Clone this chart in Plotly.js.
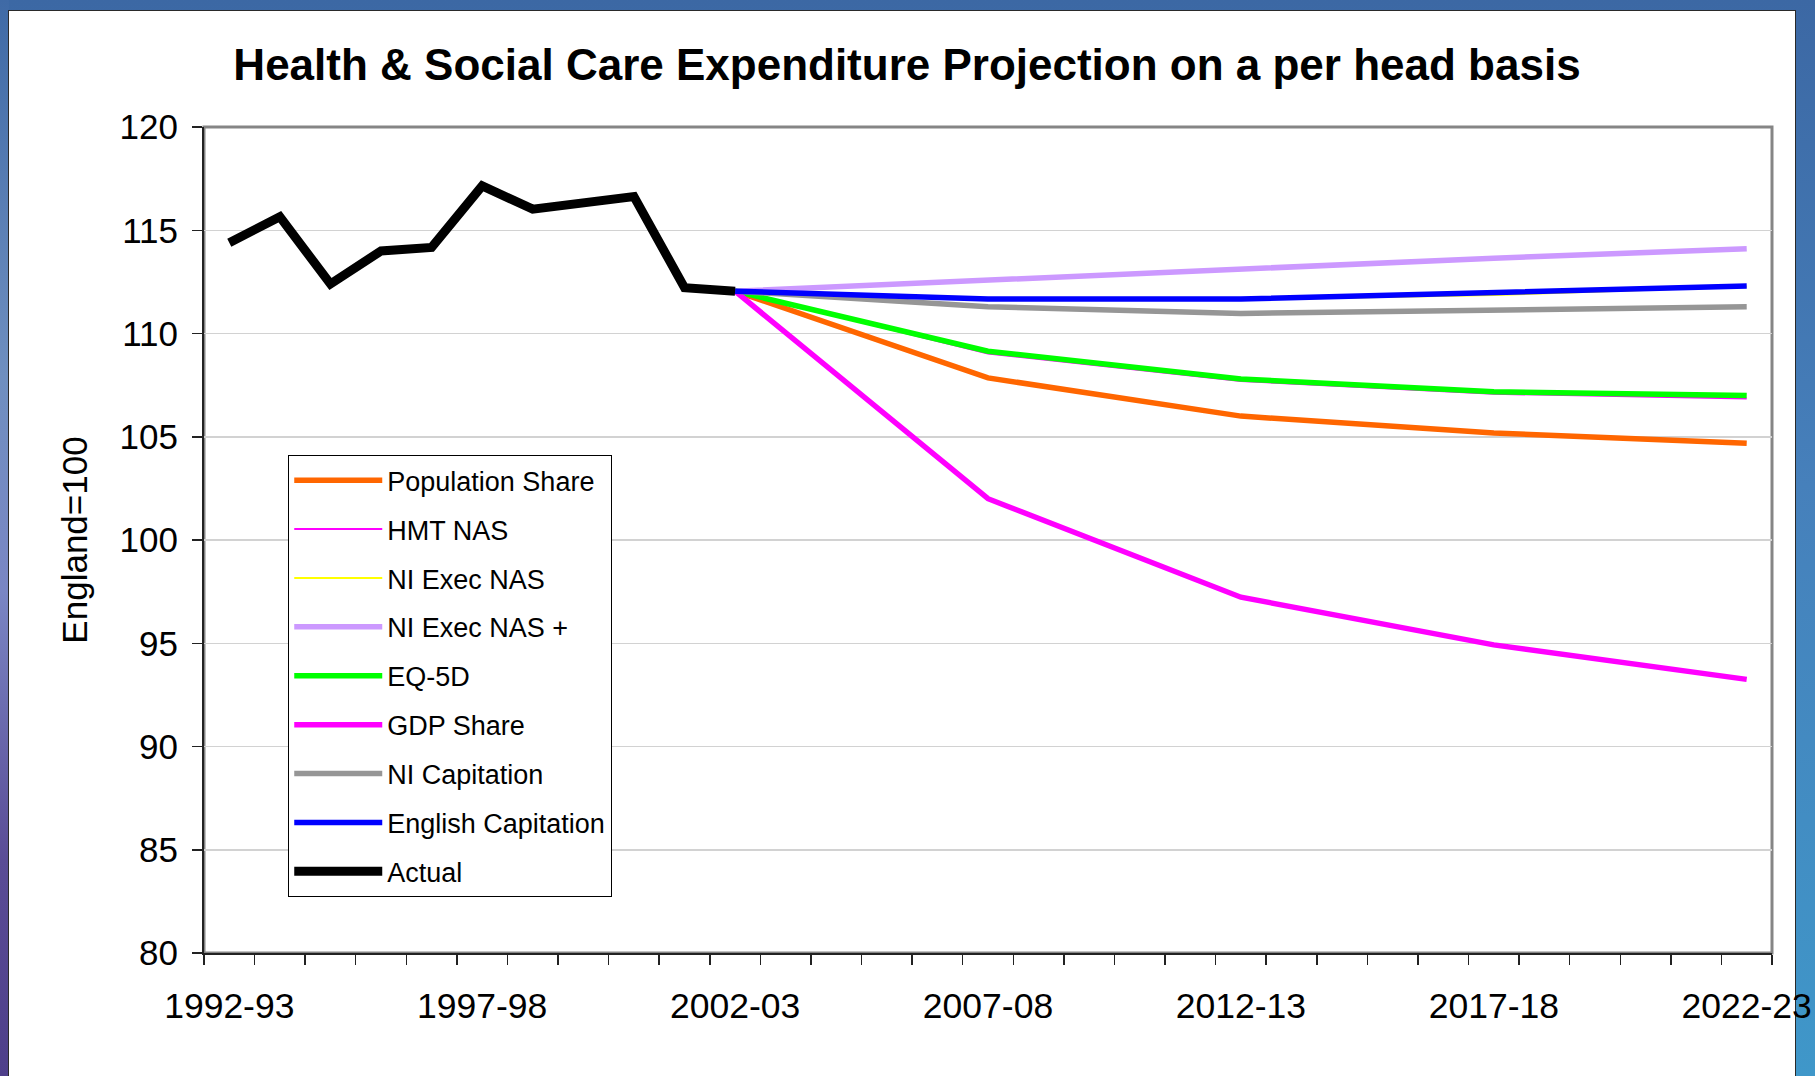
<!DOCTYPE html>
<html>
<head>
<meta charset="utf-8">
<script src="https://cdn.plot.ly/plotly-3.0.1.min.js"></script>
<style>
  html, body { margin: 0; padding: 0; }
  body {
    width: 1815px; height: 1076px; overflow: hidden; position: relative;
    background: linear-gradient(180deg, #3c68a4 0%, #4680bb 45%, #3f97c9 100%);
  }
  #leftstrip {
    position: absolute; left: 0; top: 0; width: 9px; height: 1076px;
    background: linear-gradient(180deg, #3f6aa6 0%, #6f8fc0 35%, #7a86c4 55%, #5a4c96 80%, #4e3f8a 100%);
  }
  #panel {
    position: absolute; left: 8px; top: 10px; width: 1788px; height: 1066px;
    background: #ffffff; border-left: 1px solid #2a2a2a; border-top: 1px solid #2a2a2a; border-right: 1px solid #2a2a2a;
    box-sizing: border-box;
  }
  #chart { position: absolute; left: 8px; top: 10px; width: 1788px; height: 1066px; }
  .main-svg { overflow: visible !important; }
</style>
</head>
<body>
<div id="leftstrip"></div>
<div id="panel"></div>
<div id="chart"></div>
<script>
// ---- data ----
const categories = ['1992-93','1993-94','1994-95','1995-96','1996-97','1997-98','1998-99','1999-00',
  '2000-01','2001-02','2002-03','2003-04','2004-05','2005-06','2006-07','2007-08','2008-09','2009-10',
  '2010-11','2011-12','2012-13','2013-14','2014-15','2015-16','2016-17','2017-18','2018-19','2019-20',
  '2020-21','2021-22','2022-23'];
const tickLabels = ['1992-93','1997-98','2002-03','2007-08','2012-13','2017-18','2022-23'];

const actualYears = ['1992-93','1993-94','1994-95','1995-96','1996-97','1997-98','1998-99','1999-00','2000-01','2001-02','2002-03'];
const actualValues = [114.4, 115.65, 112.4, 114.0, 114.17, 117.15, 116.02, 116.3, 116.63, 112.22, 112.05];

const projYears = ['2002-03','2007-08','2012-13','2017-18','2022-23'];
const populationShare   = [112.05, 107.85, 106.0, 105.18, 104.68];
const hmtNas            = [112.05, 109.03, 107.7, 107.08, 106.85];
const niExecNas         = [112.05, 111.65, 111.65, 111.86, 112.28];
const niExecNasPlus     = [112.05, 112.6, 113.12, 113.65, 114.1];
const eq5d              = [112.05, 109.14, 107.8, 107.18, 107.0];
const gdpShare          = [112.05, 102.0, 97.23, 94.92, 93.25];
const niCapitation      = [112.05, 111.3, 110.97, 111.15, 111.3];
const englishCapitation = [112.05, 111.67, 111.67, 112.0, 112.3];

const seriesNames = ['Population Share','HMT NAS','NI Exec NAS','NI Exec NAS +','EQ-5D','GDP Share','NI Capitation','English Capitation','Actual'];
const seriesColors = ['#FF6600','#FF00FF','#FFFF00','#CC99FF','#00FF00','#FF00FF','#969696','#0000FF','#000000'];
const seriesWidths = [5.5, 2, 2, 5.5, 5.5, 5.5, 5.5, 5.5, 9];

const titleText = 'Health &amp; Social Care Expenditure Projection on a per head basis';
const yTitle = 'England=100';

// ---- traces ----
const projValues = [populationShare, hmtNas, niExecNas, niExecNasPlus, eq5d, gdpShare, niCapitation, englishCapitation];
const traces = projValues.map((vals, i) => ({
  type: 'scatter', mode: 'lines', x: projYears, y: vals, name: seriesNames[i],
  legendgroup: 'g' + i,
  line: { color: seriesColors[i], width: seriesWidths[i] }
}));
traces.push({
  type: 'scatter', mode: 'lines', x: actualYears, y: actualValues, name: seriesNames[8],
  legendgroup: 'g8',
  line: { color: seriesColors[8], width: seriesWidths[8] }
});

const FONT = 'Liberation Sans, Arial, Helvetica, sans-serif';

const layout = {
  width: 1788, height: 1066,
  margin: { l: 196, r: 24, t: 117, b: 123 },
  paper_bgcolor: 'rgba(0,0,0,0)',
  plot_bgcolor: '#ffffff',
  font: { family: FONT, color: '#000000' },
  title: {
    text: '<b>' + titleText + '</b>',
    font: { family: FONT, size: 44, color: '#000000' },
    xref: 'container', x: 0.5028, xanchor: 'center',
    yref: 'container', y: 0.9485, yanchor: 'middle'
  },
  showlegend: true,
  legend: {
    x: 0.0536, y: 0.603, xanchor: 'left', yanchor: 'top',
    bgcolor: '#ffffff', bordercolor: '#000000', borderwidth: 1.2,
    font: { family: FONT, size: 27, color: '#000000' },
    traceorder: 'grouped', tracegroupgap: 10.8,
    itemwidth: 88
  },
  xaxis: {
    type: 'category',
    categoryorder: 'array', categoryarray: categories,
    range: [-0.5, categories.length - 0.5],
    tickvals: categories,
    ticktext: categories.map(c => tickLabels.includes(c) ? c : ''),
    tickson: 'boundaries',
    tickangle: 0,
    ticks: 'outside', ticklen: 10, tickwidth: 1.5, tickcolor: '#222222',
    showgrid: false, zeroline: false,
    showline: true, linecolor: '#222222', linewidth: 2,
    tickfont: { family: FONT, size: 35.5, color: '#000000' },
    ticklabelstandoff: 20,
    fixedrange: true
  },
  yaxis: {
    range: [80, 120], dtick: 5, tick0: 80,
    ticks: 'outside', ticklen: 10, tickwidth: 1.5, tickcolor: '#222222',
    showgrid: true, gridcolor: '#d2d2d2', gridwidth: 1.5,
    zeroline: false,
    showline: true, linecolor: '#222222', linewidth: 2,
    tickfont: { family: FONT, size: 35, color: '#000000' },
    ticklabelstandoff: 7,
    title: { text: yTitle, font: { family: FONT, size: 35, color: '#000000' }, standoff: 21 },
    fixedrange: true
  },
  shapes: [{
    type: 'rect', xref: 'paper', yref: 'paper', x0: 0, x1: 1, y0: 0, y1: 1,
    line: { color: '#858585', width: 3 }, layer: 'below'
  }]
};

Plotly.newPlot('chart', traces, layout, { displayModeBar: false, staticPlot: true });
</script>
</body>
</html>
